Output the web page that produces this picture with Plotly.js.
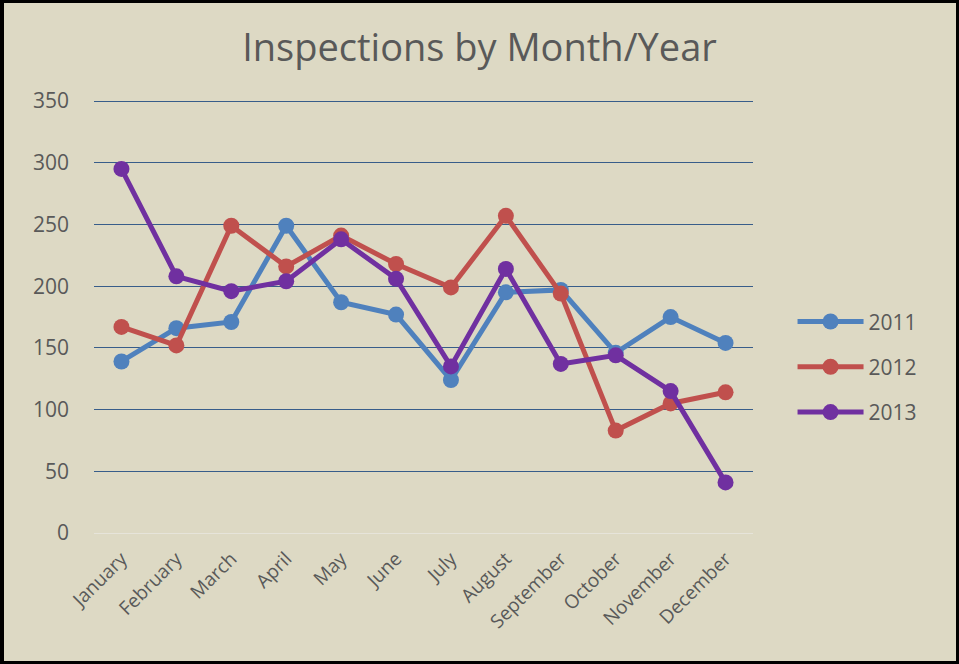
<!DOCTYPE html>
<html>
<head>
<meta charset="utf-8">
<script src="https://cdn.plot.ly/plotly-3.0.1.min.js"></script>
<style>
  body { margin: 0; }
  #wrap { position: relative; width: 959px; height: 664px; }
  #frame { position: absolute; left: 0; top: 0; width: 959px; height: 664px;
           box-sizing: border-box; border: 3px solid #000; border-left-width: 4px; pointer-events: none; }
</style>
</head>
<body>
<div id="wrap">
  <div id="chart" style="width:959px;height:664px;"></div>
  <div id="frame"></div>
</div>
<script>
// months on the x axis
var months = ["January", "February", "March", "April", "May", "June",
              "July", "August", "September", "October", "November", "December"];

// inspections per month
var y2011 = [139, 166, 171, 249, 187, 177, 124, 195, 197, 146, 175, 154];
var y2012 = [167, 152, 249, 216, 241, 218, 199, 257, 194, 83, 105, 114];
var y2013 = [295, 208, 196, 204, 238, 206, 135, 214, 137, 144, 115, 41];

function series(name, vals, color) {
    return {
        x: months,
        y: vals,
        name: name,
        legendgroup: name,
        type: "scatter",
        mode: "lines+markers",
        line: {color: color, width: 5},
        marker: {color: color, size: 16}
    };
}

var data = [
    series("2011", y2011, "#4F81BD"),
    series("2012", y2012, "#C0504D"),
    series("2013", y2013, "#7030A0")
];

var layout = {
    width: 959,
    height: 664,
    paper_bgcolor: "#DDD9C4",
    plot_bgcolor: "#DDD9C4",
    font: {family: "Open Sans, sans-serif", color: "#595959", size: 19},
    // a little headroom above 350 so its gridline is drawn
    margin: {l: 94, r: 206, t: 98, b: 131},
    title: {
        text: "Inspections by Month/Year",
        font: {size: 38, color: "#595959"},
        xref: "container", x: 0.5,
        yref: "container", y: 0.928, yanchor: "middle"
    },
    xaxis: {
        type: "category",
        range: [-0.5, 11.5],
        tickangle: -45,
        showgrid: false,
        showline: false,
        ticks: "",
        ticklabelstandoff: 10,
        tickfont: {size: 19}
    },
    yaxis: {
        range: [0, 352.5],
        dtick: 50,
        gridcolor: "#385D8A",
        gridwidth: 1,
        zeroline: true,
        zerolinecolor: "#E6E4DA",
        zerolinewidth: 1,
        ticks: "",
        ticklabelstandoff: 24,
        tickfont: {size: 21}
    },
    legend: {
        x: 1.06, xanchor: "left",
        y: 0.382, yanchor: "middle",
        font: {size: 21},
        itemwidth: 66,
        tracegroupgap: 15,
        bgcolor: "rgba(0,0,0,0)"
    },
    showlegend: true
};

Plotly.newPlot("chart", data, layout, {displayModeBar: false});
</script>
</body>
</html>
